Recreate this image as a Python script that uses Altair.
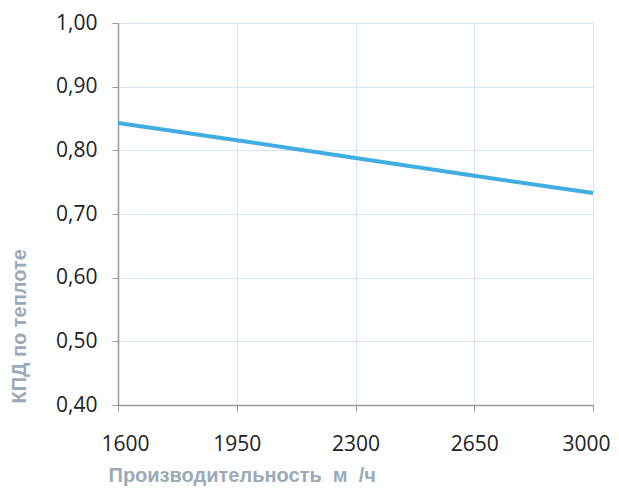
import altair as alt
import pandas as pd

flow = [1600, 1950, 2300, 2650, 3000]
eff = [0.843, 0.816, 0.788, 0.760, 0.733]
x_ticks = [1600, 1950, 2300, 2650, 3000]
y_ticks = [0.4, 0.5, 0.6, 0.7, 0.8, 0.9, 1.0]

df = pd.DataFrame({"flow": flow, "eff": eff})

chart = alt.Chart(df).mark_line(color="#41ade2", strokeWidth=4).encode(
    x=alt.X("flow:Q", scale=alt.Scale(domain=[1600, 3000], nice=False, zero=False),
            axis=alt.Axis(values=x_ticks, format="d",
                          title="Производительность\u00a0 м\u00a0 /ч",
                          titleX=-10, titleY=76, titleAlign="left", titleBaseline="alphabetic",
                          titleAnchor="start", labelFlush=True, labelFlushOffset=17,
                          labelPadding=22)),
    y=alt.Y("eff:Q", scale=alt.Scale(domain=[0.4, 1.0], nice=False, zero=False),
            axis=alt.Axis(values=y_ticks, labelExpr="replace(format(datum.value, '.2f'), '.', ',')",
                          title="КПД по теплоте", titleX=-99, titleY=380, titleAngle=-90,
                          titleAlign="left", titleBaseline="middle", labelPadding=15)),
).properties(
    width=475, height=382,
    padding={"left": 110, "top": 15, "right": 18, "bottom": 82},
    autosize="none",
).configure_axis(
    domainColor="#999999", domainWidth=1.5,
    tickColor="#999999", tickSize=6,
    gridColor="#d6e4f3", gridWidth=1,
    labelFont="Open Sans", labelFontSize=21, labelColor="#222222",
    titleFont="Liberation Sans", titleFontSize=20, titleFontWeight="bold", titleColor="#9aabb8",
).configure_view(stroke=None)

chart.save("out.html", embed_options={"renderer": "svg", "actions": False})
